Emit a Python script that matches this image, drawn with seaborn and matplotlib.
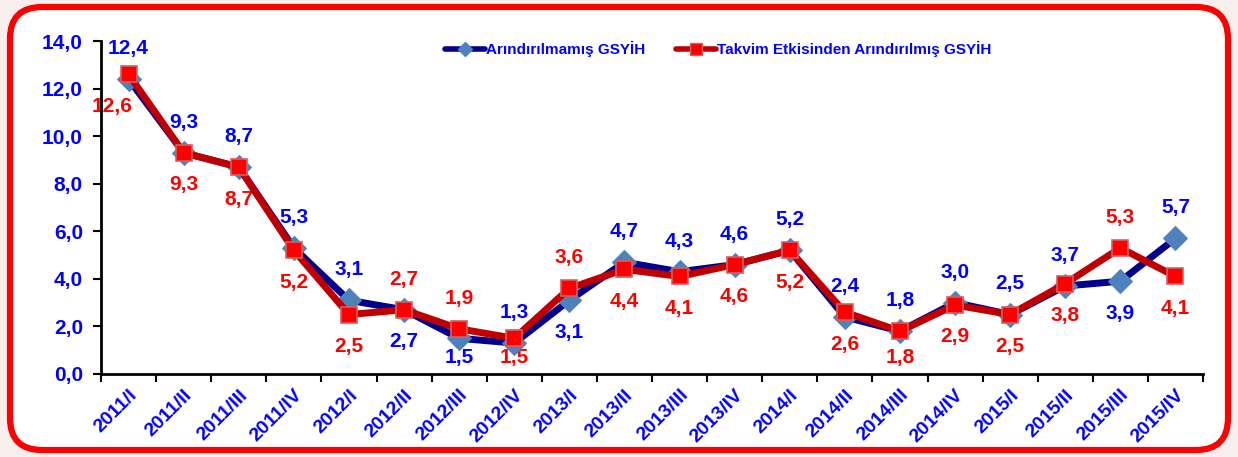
import numpy as np
import pandas as pd
import matplotlib
matplotlib.use('Agg')
import matplotlib.pyplot as plt
from matplotlib.patches import FancyBboxPatch
from matplotlib.lines import Line2D
import seaborn as sns

# Veriler
donemler = ['2011/I', '2011/II', '2011/III', '2011/IV',
            '2012/I', '2012/II', '2012/III', '2012/IV',
            '2013/I', '2013/II', '2013/III', '2013/IV',
            '2014/I', '2014/II', '2014/III', '2014/IV',
            '2015/I', '2015/II', '2015/III', '2015/IV']
arindirilmamis = [12.4, 9.3, 8.7, 5.3, 3.1, 2.7, 1.5, 1.3, 3.1, 4.7,
                  4.3, 4.6, 5.2, 2.4, 1.8, 3.0, 2.5, 3.7, 3.9, 5.7]
takvim_arindirilmis = [12.6, 9.3, 8.7, 5.2, 2.5, 2.7, 1.9, 1.5, 3.6, 4.4,
                       4.1, 4.6, 5.2, 2.6, 1.8, 2.9, 2.5, 3.8, 5.3, 4.1]
seri_adlari = ['Arındırılmamış GSYİH', 'Takvim Etkisinden Arındırılmış GSYİH']

# kırmızı etiketin üstte olduğu dönemler
kirmizi_ustte = [5, 6, 8, 18]

sns.set_theme(style='white')
plt.rcParams['font.family'] = ['Liberation Sans', 'DejaVu Sans']

df = pd.DataFrame({'x': np.arange(len(donemler)),
                   'a': arindirilmamis,
                   't': takvim_arindirilmis})

fig = plt.figure(figsize=(12.38, 4.57), dpi=100)
fig.patch.set_facecolor('#f8eeee')
# kırmızı yuvarlak çerçeve (inç cinsinden)
cerceve = FancyBboxPatch((0.10, 0.07), 12.18, 4.43,
                         boxstyle='round,pad=0,rounding_size=0.32',
                         transform=fig.dpi_scale_trans, facecolor='white',
                         edgecolor='#ff0000', linewidth=4.5, zorder=-5)
fig.patches.append(cerceve)

ax = fig.add_axes([101 / 1238, 1 - 374 / 457, 1102 / 1238, 333 / 457])
ax.set_facecolor('none')

sns.lineplot(data=df, x='x', y='a', ax=ax, color='#00008b', linewidth=5,
             marker='D', markersize=12, markerfacecolor='#4f81bd',
             markeredgecolor='#4f81bd', zorder=3)
sns.lineplot(data=df, x='x', y='t', ax=ax, color='#c00000', linewidth=5,
             marker='s', markersize=12, markerfacecolor='#ff0000',
             markeredgecolor='#d46060', markeredgewidth=1.2, zorder=4)

ax.set_xlim(-0.5, len(donemler) - 0.5)
ax.set_ylim(0, 14)

# piksel/birim (y) -> alt etiketlerin eksene çarpmaması için
px_per_unit = 333 / 14
pt_per_px = 72 / 100


def alt_ofset(v):
    return -min(23, (v * px_per_unit - 16) * pt_per_px)


etiket_font = dict(fontsize=15, fontweight='bold', ha='center', va='center')
for i in range(len(donemler)):
    a = arindirilmamis[i]
    t = takvim_arindirilmis[i]
    if i in kirmizi_ustte:
        da, dt = alt_ofset(a), 22
    else:
        da, dt = 22, alt_ofset(t)
    ax.annotate(f'{a:.1f}'.replace('.', ','), (i, a), xytext=(0, da),
                textcoords='offset points', color='#0000ff', **etiket_font)
    kw = {}
    if i == 0:
        kw = dict(bbox=dict(facecolor='white', edgecolor='none', pad=1))
    ax.annotate(f'{t:.1f}'.replace('.', ','), (i, t), xytext=(-12 if i == 0 else 0, dt),
                textcoords='offset points', color='#ff0000', zorder=2, **etiket_font, **kw)

ax.set_yticks(np.arange(0, 14.1, 2))
ax.set_yticklabels([f'{v:.1f}'.replace('.', ',') for v in np.arange(0, 14.1, 2)])
ax.set_xticks(np.arange(-0.5, len(donemler), 1))
ax.set_xticklabels([])
ax.set_xticks(np.arange(len(donemler)), minor=True)
ax.set_xticklabels(donemler, minor=True, rotation=45, ha='right',
                   rotation_mode='anchor')
ax.tick_params(axis='x', which='major', direction='out', length=6, width=1.5,
               color='black', bottom=True)
ax.tick_params(axis='x', which='minor', length=0, pad=9)
ax.tick_params(axis='y', direction='out', length=6, width=1.5, color='black',
               left=True, pad=7)
for lbl in ax.get_xticklabels(minor=True) + ax.get_yticklabels():
    lbl.set_color('#0000ff')
    lbl.set_fontweight('bold')
    lbl.set_fontsize(15)
for lbl in ax.get_xticklabels(minor=True):
    lbl.set_fontsize(14)

for s in ['top', 'right']:
    ax.spines[s].set_visible(False)
for s in ['left', 'bottom']:
    ax.spines[s].set_color('black')
    ax.spines[s].set_linewidth(2)
ax.set_xlabel('')
ax.set_ylabel('')
ax.grid(False)

tutamaklar = [
    Line2D([], [], color='#00008b', linewidth=4, marker='D', markersize=7,
           markerfacecolor='#4f81bd', markeredgecolor='#4f81bd'),
    Line2D([], [], color='#c00000', linewidth=4, marker='s', markersize=8,
           markerfacecolor='#ff0000', markeredgecolor='#d46060'),
]
leg = ax.legend(tutamaklar, seri_adlari, loc='center', ncol=2, frameon=False,
                bbox_to_anchor=(0.56, 0.976), handlelength=2.6, handletextpad=0.1,
                columnspacing=2.0, borderpad=0,
                prop=dict(family=['Liberation Sans'], weight='bold', size=11))
for txt in leg.get_texts():
    txt.set_color('#0000ff')

plt.savefig('out.png', dpi=100, facecolor=fig.get_facecolor())
